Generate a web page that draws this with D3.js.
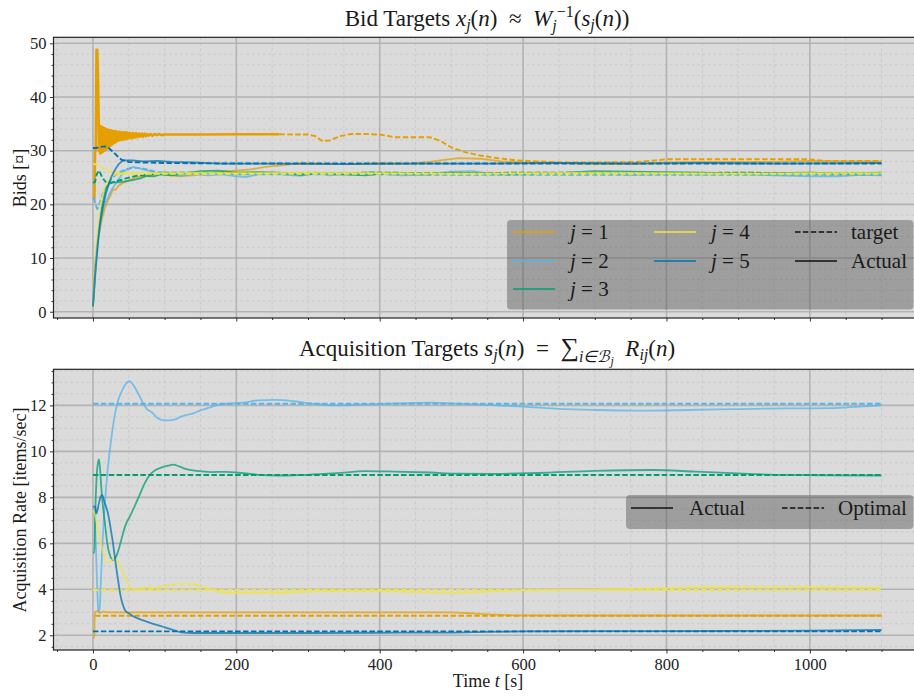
<!DOCTYPE html>
<html>
<head>
<meta charset="utf-8">
<script src="https://cdn.jsdelivr.net/npm/d3@7"></script>
<style>
  body { margin: 0; background: #fff; }
  svg { display: block; font-family: "Liberation Serif", "Times New Roman", serif; }
</style>
</head>
<body>
<script>
// ---- data ----
var timeTicks = [0, 200, 400, 600, 800, 1000];
var bidTicks = [0, 10, 20, 30, 40, 50];
var rateTicks = [2, 4, 6, 8, 10, 12];
var seriesNames = ["j = 1", "j = 2", "j = 3", "j = 4", "j = 5"];
var seriesColors = ["#E69F00", "#56B4E9", "#009E73", "#F0E442", "#0072B2"];

// bids, actual  [t, value]
var bidActual1 = [[0,1],[1,3],[2,6],[3,8.5],[5,11],[7,13.5],[10,15.5],[13,17.5],[16,19],[20,20.5],[24,21.5],[28,22.8],[32,22.7],[36,23.5],[42,24],[50,24.5],[60,25],[70,25.3],[80,25.2],[90,25.8],[100,25.5],[120,25.2],[140,25.4],[160,25.8],[180,26.1],[200,26.3],[220,26.5],[240,27],[260,27.2],[290,27.7],[320,27.6],[360,27.5],[400,27.7],[440,27.6],[470,27.9],[490,28.3],[510,28.6],[540,28.5],[570,28],[600,27.8],[650,27.7],[700,27.5],[750,27.5],[800,27.8],[850,27.9],[900,27.9],[950,27.9],[1000,28.1],[1050,28],[1100,28]];
var bidActual2 = [[0,1],[2,4],[4,8],[6,11],[8,14],[10,16],[13,18.5],[16,20],[20,21],[25,22.5],[30,23.5],[35,24.5],[40,25.5],[45,26.3],[50,26.6],[56,27],[62,26.8],[70,26.5],[80,26.2],[90,25.6],[100,25.8],[110,25.6],[125,25.3],[140,25.7],[160,25.4],[180,25.6],[200,25.2],[215,25.1],[230,25.6],[250,25.8],[270,25.5],[290,25.3],[310,25.9],[330,25.4],[350,25.6],[370,25.8],[390,26.0],[410,25.6],[430,25.4],[460,25.5],[480,25.8],[500,26.1],[530,26.2],[560,25.6],[600,25.6],[650,25.7],[700,25.9],[750,25.5],[800,25.7],[850,25.6],[900,25.7],[950,25.4],[1000,25.2],[1040,25.2],[1070,25.5],[1100,25.4]];
var bidActual3 = [[0,1],[2,5],[4,9.5],[7,14],[10,17.5],[14,20.5],[18,22.8],[22,23.8],[27,24.1],[35,24.1],[45,24.3],[55,24.5],[65,24.8],[75,25.3],[85,25.2],[95,25.6],[110,25.4],[130,25.8],[150,26.2],[175,26.3],[200,25.9],[230,26],[260,25.9],[290,25.5],[320,25.8],[350,25.6],[380,25.4],[410,25.8],[440,25.7],[470,25.6],[500,25.9],[540,25.8],[580,25.6],[620,25.8],[660,25.9],[700,26.2],[750,26.1],[800,26],[850,25.9],[900,25.7],[950,25.8],[1000,25.9],[1050,25.7],[1100,25.9]];
var bidActual4 = [[0,1],[2,5.5],[4,10],[6,14],[8,17],[10,19.5],[13,21.5],[16,23],[20,24.3],[25,25.1],[30,25.5],[40,25.7],[60,25.8],[100,25.8],[150,25.9],[200,25.8],[300,25.9],[400,25.8],[500,25.7],[600,25.8],[700,25.9],[800,25.8],[900,25.7],[1000,25.8],[1100,25.8]];
var bidActual5 = [[0,1],[2,5],[4,8.5],[7,13],[10,16.5],[14,19.6],[18,22],[21,23.3],[26,25.2],[31,26.5],[36,27.5],[42,28.2],[55,28.2],[70,28.0],[90,28.1],[110,27.9],[140,27.8],[180,27.6],[250,27.6],[350,27.5],[450,27.6],[550,27.6],[650,27.7],[750,27.6],[850,27.7],[950,27.6],[1100,27.7]];

// bids, target  [t, value]
var bidTarget1 = [[0,21],[2,21.2],[3,30.2],[4,30],[5,48.8],[6,48.8],[7,44],[7.5,40],[8,36],[8.5,30],[9,34.7],[10,29.5],[11,34.5],[12,29.6],[13,34.4],[14,29.8],[15,34.2],[16,30.0],[17,34.1],[18,30.2],[19,34.0],[20,30.4],[21,33.9],[22,30.6],[23,33.8],[24,30.9],[25,33.8],[26,31.1],[27,33.7],[28,31.3],[29,33.6],[30,31.5],[31,33.6],[32,31.6],[33,33.5],[34,31.8],[35,33.5],[36,31.9],[37,33.5],[38,32.0],[39,33.4],[40,32.0],[41,33.4],[42,32.1],[43,33.4],[44,32.1],[45,33.4],[46,32.2],[47,33.4],[48,32.2],[49,33.3],[50,32.3],[52,33.3],[54,32.3],[56,33.3],[58,32.4],[60,33.3],[62,32.5],[64,33.2],[66,32.6],[68,33.2],[70,32.6],[72,33.2],[74,32.7],[76,33.1],[78,32.8],[80,33.1],[83,32.8],[86,33.1],[89,32.9],[92,33.1],[96,32.9],[100,33.0],[150,33.0],[200,33.05],[260,33.05],[300,33],[310,32.7],[320,31.8],[330,31.9],[345,32.7],[360,33.1],[380,33.1],[400,33],[410,32.8],[420,32.5],[470,32.5],[485,31.8],[500,30.6],[520,29.7],[540,29.1],[565,28.6],[590,28.2],[620,28],[660,27.8],[700,27.8],[760,27.9],[785,28.2],[800,28.4],[900,28.4],[995,28.4],[1020,28.1],[1060,28.1],[1100,28.1]];
var bidTarget2 = [[0,21],[2,21],[4,19.8],[6,19.2],[8,19.5],[10,20.5],[13,21.8],[16,22.8],[20,23.6],[25,24.6],[30,25.3],[35,25.8],[40,26.2],[48,26.6],[56,26.8],[65,26.8],[75,26.5],[90,26.0],[110,25.8],[150,25.8],[200,25.6],[300,25.6],[400,25.6],[500,25.5],[600,25.5],[700,25.5],[800,25.5],[900,25.5],[1000,25.5],[1100,25.5]];
var bidTarget3 = [[0,24],[3,24.2],[5,25.5],[8,26.3],[10,25.9],[13,25],[17,24.3],[21,24.0],[25,24],[35,24.4],[45,24.8],[60,25.3],[80,25.6],[100,25.9],[150,25.9],[200,25.8],[300,25.8],[400,25.9],[500,25.8],[600,25.9],[700,25.9],[800,25.8],[900,25.9],[1000,25.8],[1100,25.8]];
var bidTarget4 = [[0,27.6],[5,27.4],[10,27],[15,26.7],[20,26.4],[30,26],[40,25.8],[60,25.7],[100,25.7],[200,25.7],[400,25.7],[600,25.7],[800,25.7],[1000,25.7],[1100,25.7]];
var bidTarget5 = [[0,30.5],[5,30.5],[10,30.7],[17,30.8],[22,30.5],[28,29.8],[34,29],[40,28.3],[50,27.9],[70,27.8],[100,27.7],[200,27.6],[400,27.6],[600,27.6],[800,27.6],[1000,27.6],[1100,27.6]];

// acquisition rate, actual  [t, value]
var rateActual1 = [[0,1.9],[2,1.9],[2.5,2.85],[3,3.0],[6,3.05],[10,2.98],[15,3.03],[20,3.0],[100,3.0],[300,3.0],[450,3.0],[500,3.0],[530,2.95],[560,2.9],[600,2.87],[700,2.86],[800,2.86],[900,2.86],[1000,2.86],[1100,2.86]];
var rateActual2 = [[0,7.5],[2,7.3],[4,6.0],[5.5,4.5],[7,3.3],[8,3.0],[9.5,3.2],[11,4.3],[13,5.8],[16,7.4],[20,9.0],[25,10.4],[30,11.5],[35,12.2],[40,12.6],[45,12.9],[51,13.05],[56,12.9],[60,12.7],[65,12.4],[70,12.1],[75,11.85],[82,11.7],[90,11.45],[97,11.36],[105,11.35],[114,11.38],[122,11.5],[130,11.58],[140,11.65],[150,11.78],[162,11.9],[175,12.03],[190,12.08],[210,12.12],[230,12.22],[255,12.24],[280,12.18],[310,12.06],[340,12.0],[370,12.03],[400,12.06],[440,12.1],[470,12.12],[510,12.08],[550,12.02],[600,11.95],[650,11.85],[700,11.8],[770,11.77],[830,11.8],[900,11.84],[970,11.87],[1030,11.88],[1070,11.95],[1100,12.0]];
var rateActual3 = [[0,5.6],[2,5.6],[3,7.0],[5,8.8],[7,9.5],[8.5,9.65],[10,9.2],[12,8.3],[14,7.6],[17,6.8],[20,6.0],[24,5.45],[28,5.27],[32,5.4],[35,5.64],[40,6.2],[45,6.75],[52,7.2],[58,7.6],[65,8.1],[72,8.6],[80,9.0],[88,9.2],[96,9.3],[105,9.38],[112,9.42],[120,9.35],[130,9.23],[145,9.15],[165,9.1],[185,9.11],[210,9.05],[235,8.97],[260,8.95],[300,8.98],[340,9.05],[380,9.14],[420,9.12],[470,9.08],[510,9.03],[560,9.02],[620,9.06],[700,9.15],[780,9.19],[840,9.12],[900,9.04],[960,8.98],[1030,8.96],[1100,8.95]];
var rateActual4 = [[0,7.45],[3,7.2],[7,6.6],[10,6.1],[14,5.63],[19,5.13],[23,5.2],[28,5.3],[33,5.27],[37,5.06],[41,4.8],[45,4.5],[50,4.2],[55,4.02],[63,4.0],[70,4.08],[75,4.11],[82,4.04],[95,4.12],[110,4.2],[125,4.24],[140,4.22],[155,4.1],[170,3.93],[185,3.85],[220,3.83],[260,3.84],[300,3.9],[350,3.93],[400,3.92],[450,3.88],[500,3.82],[540,3.88],[580,3.94],[650,3.97],[700,3.99],[780,4.04],[850,4.09],[920,4.11],[1000,4.1],[1100,4.07]];
var rateActual5 = [[0,7.6],[3,7.6],[5,7.3],[8,7.7],[11,8.05],[13,8.1],[16,7.8],[21,7.3],[25,6.6],[28,6.0],[31,5.3],[33,4.84],[36,4.2],[38,3.8],[41,3.4],[45,3.08],[52,2.92],[58,2.8],[70,2.65],[82,2.52],[95,2.4],[105,2.3],[115,2.2],[123,2.13],[140,2.1],[200,2.1],[300,2.1],[400,2.11],[500,2.12],[550,2.15],[600,2.17],[700,2.18],[800,2.18],[900,2.19],[1000,2.2],[1100,2.23]];

// acquisition rate, optimal  [t, value]
var rateOpt1 = [[3,2.85],[1100,2.85]];
var rateOpt2 = [[0,12.07],[1100,12.07]];
var rateOpt3 = [[0,8.97],[1100,8.97]];
var rateOpt4 = [[0,3.97],[1100,3.97]];
var rateOpt5 = [[0,2.17],[1100,2.17]];

var bidSeries = [bidActual1, bidActual2, bidActual3, bidActual4, bidActual5];
var bidTargets = [bidTarget1, bidTarget2, bidTarget3, bidTarget4, bidTarget5];
var rateSeries = [rateActual1, rateActual2, rateActual3, rateActual4, rateActual5];
var rateTargets = [rateOpt1, rateOpt2, rateOpt3, rateOpt4, rateOpt5];

// ---- layout ----
var width = 914, height = 696;
var left = 53.5, right = 921;
var bg = "#dbdbdb";
var serif = "'Liberation Serif', 'Times New Roman', serif";

var svg = d3.select("body").append("svg")
    .attr("width", width)
    .attr("height", height);

var x = d3.scaleLinear().domain([-55, 1155]).range([left, right]);

function rich(t, parts) {
  parts.forEach(function(p) {
    var o = p[1] || {};
    var ts = t.append("tspan").text(p[0]);
    if (o.i) ts.style("font-style", "italic");
    if (o.fs) ts.attr("font-size", o.fs);
    if (o.dy) ts.attr("dy", o.dy);
    if (o.dx) ts.attr("dx", o.dx);
  });
}

function panel(top, bottom, yDomain, majors, minorStep, showX) {
  var y = d3.scaleLinear().domain(yDomain).range([bottom, top]);
  var g = svg.append("g");

  g.append("rect")
      .attr("x", left).attr("y", top)
      .attr("width", right - left).attr("height", bottom - top)
      .attr("fill", bg);

  var yMinor = d3.range(Math.ceil(yDomain[0] / minorStep) * minorStep, yDomain[1], minorStep)
      .filter(function(v) { return majors.indexOf(Math.round(v * 100) / 100) < 0; });
  var xMinor = d3.range(-50, 1155, 50).filter(function(v) { return v % 200 !== 0; });

  // minor grid
  g.selectAll(".ymg").data(yMinor).enter().append("line")
      .attr("x1", left).attr("x2", right)
      .attr("y1", function(d) { return y(d); }).attr("y2", function(d) { return y(d); })
      .attr("stroke", "#c6c6c6").attr("stroke-width", 0.8).attr("stroke-dasharray", "3,2.5");
  g.selectAll(".xmg").data(xMinor).enter().append("line")
      .attr("y1", top).attr("y2", bottom)
      .attr("x1", function(d) { return x(d); }).attr("x2", function(d) { return x(d); })
      .attr("stroke", "#c6c6c6").attr("stroke-width", 0.8).attr("stroke-dasharray", "3,2.5");
  // major grid
  g.selectAll(".yg").data(majors).enter().append("line")
      .attr("x1", left).attr("x2", right)
      .attr("y1", function(d) { return y(d); }).attr("y2", function(d) { return y(d); })
      .attr("stroke", "#b3b3b3").attr("stroke-width", 1.6);
  g.selectAll(".xg").data(timeTicks).enter().append("line")
      .attr("y1", top).attr("y2", bottom)
      .attr("x1", function(d) { return x(d); }).attr("x2", function(d) { return x(d); })
      .attr("stroke", "#b3b3b3").attr("stroke-width", 1.6);

  // axes
  g.append("g").attr("transform", "translate(" + left + ",0)")
      .call(d3.axisLeft(y).tickValues(majors).tickSize(3.5).tickSizeOuter(0).tickPadding(3.5)
        .tickFormat(d3.format("d")));
  g.append("g").attr("transform", "translate(" + left + ",0)")
      .call(d3.axisLeft(y).tickValues(yMinor).tickSize(2).tickSizeOuter(0).tickFormat(""));
  var ax = g.append("g").attr("transform", "translate(0," + bottom + ")")
      .call(d3.axisBottom(x).tickValues(timeTicks).tickSize(3.5).tickSizeOuter(0).tickPadding(5)
        .tickFormat(d3.format("d")));
  g.append("g").attr("transform", "translate(0," + bottom + ")")
      .call(d3.axisBottom(x).tickValues(xMinor).tickSize(2).tickSizeOuter(0).tickFormat(""));
  if (!showX) ax.selectAll("text").remove();

  g.selectAll(".domain").remove();
  g.selectAll("g").attr("font-family", serif);
  g.selectAll(".tick line").attr("stroke", "#333").attr("stroke-width", 1);
  g.selectAll(".tick text")
      .attr("font-size", 16.5)
      .attr("fill", "#222");

  return { g: g, y: y, top: top, bottom: bottom };
}

function spines(p) {
  p.g.append("rect")
      .attr("x", left).attr("y", p.top)
      .attr("width", right - left).attr("height", p.bottom - p.top)
      .attr("fill", "none").attr("stroke", "#222").attr("stroke-width", 1.2);
}

function drawLines(p, actual, target, splitFirst) {
  var line = d3.line()
      .x(function(d) { return x(d[0]); })
      .y(function(d) { return p.y(d[1]); });
  var smooth = d3.line().curve(d3.curveMonotoneX)
      .x(function(d) { return x(d[0]); })
      .y(function(d) { return p.y(d[1]); });
  var gen = splitFirst ? line : smooth;
  for (var j = 0; j < 5; j++) {
    p.g.append("path").attr("d", gen(actual[j]))
        .attr("fill", "none").attr("stroke", seriesColors[j])
        .attr("stroke-width", 1.8).attr("stroke-opacity", 0.75)
        .attr("stroke-linejoin", "round");
    var tg = target[j];
    if (splitFirst && j === 0) {
      // the dense oscillation renders as a solid band in the original
      var a = tg.filter(function(d) { return d[0] <= 260; });
      var b = tg.filter(function(d) { return d[0] >= 260; });
      p.g.append("path").attr("d", line(a))
          .attr("fill", "none").attr("stroke", seriesColors[j])
          .attr("stroke-width", 2.6).attr("stroke-linejoin", "round");
      tg = b;
    }
    p.g.append("path").attr("d", gen(tg))
        .attr("fill", "none").attr("stroke", seriesColors[j])
        .attr("stroke-width", 1.9).attr("stroke-dasharray", "5.5,2.4");
  }
}

// ---- top panel: bids ----
var p1 = panel(37.3, 318, [-1.17, 51.12], bidTicks, 2, false);
drawLines(p1, bidSeries, bidTargets, true);
spines(p1);

// ---- bottom panel: acquisition rate ----
var p2 = panel(369.3, 650, [1.36, 13.57], rateTicks, 0.5, true);
drawLines(p2, rateSeries, rateTargets, false);
spines(p2);

// ---- legends ----
var lg1 = svg.append("g");
lg1.append("rect").attr("x", 507).attr("y", 220).attr("width", 406.5).attr("height", 89.5)
    .attr("rx", 4).attr("fill", "#555").attr("fill-opacity", 0.45);
var legItems = [
  { col: 0, row: 0, j: 0 }, { col: 0, row: 1, j: 1 }, { col: 0, row: 2, j: 2 },
  { col: 1, row: 0, j: 3 }, { col: 1, row: 1, j: 4 }
];
var colX = [513, 654, 795];
var rowY = [232, 261, 289];
legItems.forEach(function(it) {
  lg1.append("line")
      .attr("x1", colX[it.col]).attr("x2", colX[it.col] + 42)
      .attr("y1", rowY[it.row]).attr("y2", rowY[it.row])
      .attr("stroke", seriesColors[it.j]).attr("stroke-width", 1.8).attr("stroke-opacity", 0.75);
  var t = lg1.append("text").attr("x", colX[it.col] + 57).attr("y", rowY[it.row] + 7)
      .attr("font-size", 21).attr("fill", "#1a1a1a");
  var parts = seriesNames[it.j].split(" = ");
  rich(t, [[parts[0], { i: true }], [" = " + parts[1]]]);
});
lg1.append("line").attr("x1", 795).attr("x2", 837).attr("y1", rowY[0]).attr("y2", rowY[0])
    .attr("stroke", "#111").attr("stroke-width", 1.6).attr("stroke-dasharray", "5.5,2.4");
lg1.append("line").attr("x1", 795).attr("x2", 837).attr("y1", rowY[1]).attr("y2", rowY[1])
    .attr("stroke", "#111").attr("stroke-width", 1.6);
lg1.append("text").attr("x", 851).attr("y", rowY[0] + 7).attr("font-size", 21).attr("fill", "#1a1a1a").text("target");
lg1.append("text").attr("x", 851).attr("y", rowY[1] + 7).attr("font-size", 21).attr("fill", "#1a1a1a").text("Actual");

var lg2 = svg.append("g");
lg2.append("rect").attr("x", 626).attr("y", 495).attr("width", 287.5).attr("height", 34)
    .attr("rx", 4).attr("fill", "#555").attr("fill-opacity", 0.45);
lg2.append("line").attr("x1", 631).attr("x2", 673).attr("y1", 508).attr("y2", 508)
    .attr("stroke", "#111").attr("stroke-width", 1.6);
lg2.append("text").attr("x", 689).attr("y", 515).attr("font-size", 21).attr("fill", "#1a1a1a").text("Actual");
lg2.append("line").attr("x1", 782).attr("x2", 824).attr("y1", 508).attr("y2", 508)
    .attr("stroke", "#111").attr("stroke-width", 1.6).attr("stroke-dasharray", "5.5,2.4");
lg2.append("text").attr("x", 838).attr("y", 515).attr("font-size", 21).attr("fill", "#1a1a1a").text("Optimal");

// ---- titles and labels ----
var t1 = svg.append("text").attr("x", 487).attr("y", 25.5).attr("text-anchor", "middle")
    .attr("font-size", 23).attr("fill", "#1a1a1a");
rich(t1, [["Bid Targets "], ["x", { i: 1 }], ["j", { i: 1, fs: 16, dy: 4 }], ["(", { dy: -4 }], ["n", { i: 1 }],
  [")\u2002\u2248\u2002"], ["W", { i: 1 }], ["j", { i: 1, fs: 16, dy: 5 }], ["\u22121", { fs: 16, dy: -14 }],
  ["(", { dy: 9 }], ["s", { i: 1 }], ["j", { i: 1, fs: 16, dy: 4 }], ["(", { dy: -4 }], ["n", { i: 1 }], ["))"]]);

var t2 = svg.append("text").attr("x", 487).attr("y", 356).attr("text-anchor", "middle")
    .attr("font-size", 23).attr("fill", "#1a1a1a");
rich(t2, [["Acquisition Targets "], ["s", { i: 1 }], ["j", { i: 1, fs: 16, dy: 4 }], ["(", { dy: -4 }], ["n", { i: 1 }],
  [")\u2002=\u2002"], ["\u2211", { fs: 26 }], ["i\u2208\u212C", { i: 1, fs: 16, dy: 6 }], ["j", { i: 1, fs: 12, dy: 3 }],
  ["\u2002", { dy: -9 }], ["R", { i: 1 }], ["ij", { i: 1, fs: 16, dy: 4 }], ["(", { dy: -4 }], ["n", { i: 1 }], [")"]]);

svg.append("text").attr("transform", "translate(26,178) rotate(-90)").attr("text-anchor", "middle")
    .attr("font-size", 18).attr("fill", "#1a1a1a").text("Bids [\u00A4]");
svg.append("text").attr("transform", "translate(26,510) rotate(-90)").attr("text-anchor", "middle")
    .attr("font-size", 18).attr("fill", "#1a1a1a").text("Acquisition Rate [items/sec]");
var xl = svg.append("text").attr("x", 488).attr("y", 687).attr("text-anchor", "middle")
    .attr("font-size", 18).attr("fill", "#1a1a1a");
rich(xl, [["Time "], ["t", { i: 1 }], [" [s]"]]);
</script>
</body>
</html>
